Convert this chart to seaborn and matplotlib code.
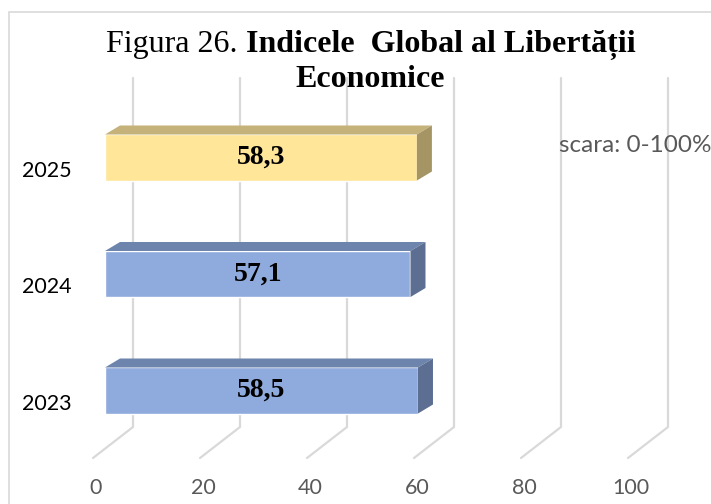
import numpy as np
import pandas as pd
import seaborn as sns
import matplotlib.pyplot as plt
from matplotlib.patches import Polygon, Rectangle
from matplotlib.lines import Line2D
from matplotlib.transforms import ScaledTranslation

# data
years = ["2025", "2024", "2023"]
values = [58.3, 57.1, 58.5]
xticks = [0, 20, 40, 60, 80, 100]
front_colors = ["#ffe699", "#8faadc", "#8faadc"]
top_colors = ["#c5b27a", "#6d85ad", "#6d85ad"]
side_colors = ["#a59565", "#5c6e92", "#5c6e92"]

sns.set_theme(style="white")

W, H = 711, 504
fig = plt.figure(figsize=(W / 100, H / 100), dpi=100)
# axes = plane of the bar front faces
ax = fig.add_axes([105 / W, (H - 448.75) / H, 535 / W, 349.5 / H])
ax.patch.set_visible(False)

df = pd.DataFrame({"year": years, "value": values})
sns.barplot(data=df, x="value", y="year", hue="year", palette=front_colors,
            orient="h", width=0.395, saturation=1, legend=False, ax=ax)
ax.set_xlim(0, 100)
ax.set_ylim(2.5, -0.5)
ax.set_xticks(xticks)
ax.set_xticklabels([str(t) for t in xticks])
ax.set_xlabel("")
ax.set_ylabel("")
sns.despine(ax=ax, left=True, bottom=True)
ax.tick_params(axis="both", length=0)
ax.tick_params(axis="y", pad=23.8)
ax.tick_params(axis="x", pad=21)

# 3D look: offsets in pixels
FRONT_DX, BACK_DX = -12, 28
BACK_TOP, BACK_BOT, FLOOR = 78, 427, 458
DEPTH_DX, DEPTH_DY = 15, 9
to_fig = fig.transFigure.inverted()
grid_col = "#d9d9d9"

def xpix(v):
    return ax.transData.transform((v, 0))[0]

def fxy(xd, ytop):
    return to_fig.transform((xd, H - ytop))

for v in xticks:
    xb = xpix(v) + BACK_DX
    xf = xpix(v) + FRONT_DX
    pts = np.array([fxy(xf, FLOOR), fxy(xb, BACK_BOT), fxy(xb, BACK_TOP)])
    fig.add_artist(Line2D(pts[:, 0], pts[:, 1], color=grid_col, lw=1.6,
                          zorder=-1, transform=fig.transFigure))

# bar top and side faces
for i, p in enumerate(ax.patches):
    (x0, y0), (x1, y1) = ax.transData.transform(
        [(p.get_x(), p.get_y()), (p.get_x() + p.get_width(), p.get_y() + p.get_height())])
    yb, yt = min(y0, y1), max(y0, y1)
    xl, xr = min(x0, x1), max(x0, x1)
    k = i if i < len(years) else 0
    top = [(xl, yt), (xr, yt), (xr + DEPTH_DX, yt + DEPTH_DY), (xl + DEPTH_DX, yt + DEPTH_DY)]
    side = [(xr, yb), (xr, yt), (xr + DEPTH_DX, yt + DEPTH_DY), (xr + DEPTH_DX, yb + DEPTH_DY)]
    fig.add_artist(Polygon(to_fig.transform(top), closed=True, facecolor=top_colors[k],
                           edgecolor="none", transform=fig.transFigure, zorder=1))
    fig.add_artist(Polygon(to_fig.transform(side), closed=True, facecolor=side_colors[k],
                           edgecolor="none", transform=fig.transFigure, zorder=1))

# value labels
for i, v in enumerate(values):
    ax.text(v / 2, i, f"{v:.1f}".replace(".", ","), ha="center", va="center",
            fontsize=20, fontweight="bold", family="Liberation Serif", color="black")

# tick labels
for lbl in ax.get_yticklabels():
    lbl.set_fontfamily("Lato")
    lbl.set_fontsize(15.5)
    lbl.set_color("black")
    lbl.set_transform(lbl.get_transform() + ScaledTranslation(0, -11 / 100, fig.dpi_scale_trans))
for lbl in ax.get_xticklabels():
    lbl.set_fontfamily("Lato")
    lbl.set_fontsize(15.5)
    lbl.set_color("#595959")
    lbl.set_transform(lbl.get_transform() + ScaledTranslation(-9 / 100, 0, fig.dpi_scale_trans))

# title
r = fig.canvas.get_renderer()
tfont = dict(family="Liberation Serif", fontsize=23, color="black", va="baseline")
t1 = fig.text(0, 0, "Figura 26. ", **tfont)
t2 = fig.text(0, 0, "Indicele  Global al Libertății", fontweight="bold", **tfont)
w1 = t1.get_window_extent(r).width
w2 = t2.get_window_extent(r).width
x_start = 371 - (w1 + w2) / 2
t1.set_position((x_start / W, (H - 52) / H))
t2.set_position(((x_start + w1) / W, (H - 52) / H))
fig.text(370 / W, (H - 87) / H, "Economice", ha="center", fontweight="bold", **tfont)

fig.text(559 / W, (H - 152) / H, "scara: 0-100%", family="Lato", fontsize=17.5,
         color="#595959", va="baseline")

# chart border
fig.add_artist(Rectangle((9 / W, -0.05), 1.1, (H - 12) / H + 0.05, fill=False,
                         edgecolor=grid_col, lw=1.2, transform=fig.transFigure))

fig.savefig("out.png", dpi=100)
